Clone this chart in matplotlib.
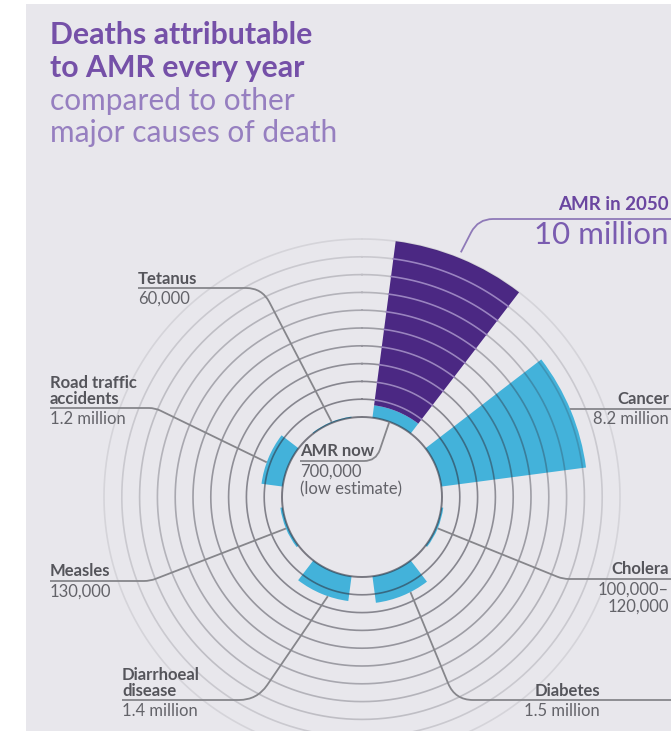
import numpy as np
import matplotlib
matplotlib.use('Agg')
import matplotlib.pyplot as plt
from matplotlib.path import Path
from matplotlib.patches import PathPatch, Rectangle

plt.rcParams['font.family'] = ['Lato', 'DejaVu Sans']

# deaths per year, in millions
causes = ['AMR now', 'Cancer', 'Cholera', 'Diabetes', 'Diarrhoeal\ndisease',
          'Measles', 'Road traffic\naccidents', 'Tetanus']
deaths = [0.7, 8.2, 0.11, 1.5, 1.4, 0.13, 1.2, 0.06]
value_text = ['700,000\n(low estimate)', '8.2 million', '100,000–\n120,000',
              '1.5 million', '1.4 million', '130,000', '1.2 million', '60,000']
amr_2050 = 10.0
rings = list(range(0, 11))
ring_alpha = [0.6, 0.55, 0.52, 0.48, 0.44, 0.4, 0.34, 0.28, 0.22, 0.16, 0.1]

W, H = 671, 731
CX, CY = 362, 497          # centre of the chart in pixels
PX_PER_M = 17.8            # pixels per million deaths
R0 = 80 / PX_PER_M         # empty hole in the middle
RPX = 280

BG = '#e8e7ec'
BLUE = '#43b2da'
PURPLE = '#4b2883'
TITLE_PURPLE = '#7550a8'
SUB_PURPLE = '#967fc0'
LIGHT_PURPLE = '#9a82c2'
GREY = '#55555b'
GREY_L = '#636369'
LINE = '#86868b'

fig = plt.figure(figsize=(W / 100, H / 100), dpi=100, facecolor='white')
fig.add_artist(Rectangle((26 / W, 0), 1 - 26 / W, 1 - 4 / H, transform=fig.transFigure,
                         facecolor=BG, edgecolor='none', zorder=-1))

pax = fig.add_axes([(CX - RPX) / W, (H - CY - RPX) / H, 2 * RPX / W, 2 * RPX / H],
                   projection='polar', zorder=1)
pax.set_theta_zero_location('N')
pax.set_theta_direction(-1)
pax.set_ylim(0, RPX / PX_PER_M)
pax.patch.set_alpha(0)
pax.spines['polar'].set_visible(False)
pax.set_xticks([])
pax.set_yticks([])
pax.grid(False)

width = np.deg2rad(30)
theta = np.deg2rad(22.5 + 45 * np.arange(len(causes)))
pax.bar(theta, deaths, width=width, bottom=R0, color=BLUE, linewidth=0, zorder=2)
pax.bar(theta[0], amr_2050 - deaths[0], width=width, bottom=R0 + deaths[0],
        color=PURPLE, linewidth=0, zorder=2)

# concentric rings, one per million, fading outwards
full = np.linspace(0, 2 * np.pi, 721)
for k, a in zip(rings, ring_alpha):
    pax.plot(full, np.full_like(full, R0 + k), color='#2e2e3a', alpha=a,
             lw=1.4 if k == 0 else 1.2, zorder=2.5)
arc = np.linspace(theta[0] - width / 2, theta[0] + width / 2, 60)
for k in rings[1:10]:
    if k > deaths[0]:
        pax.plot(arc, np.full_like(arc, R0 + k), color=LIGHT_PURPLE, lw=1.2, zorder=3)

tax = fig.add_axes([0, 0, 1, 1], zorder=2)
tax.set_xlim(0, W)
tax.set_ylim(H, 0)
tax.axis('off')


def to_px(theta_deg, r):
    d = pax.transData.transform((np.deg2rad(theta_deg), r))
    return tax.transData.inverted().transform(d)


def leader(points, rad=10, color=LINE):
    verts = [points[0]]
    codes = [Path.MOVETO]
    for i in range(1, len(points) - 1):
        p0, p1, p2 = (np.asarray(p, float) for p in points[i - 1:i + 2])
        d1 = (p1 - p0) / np.linalg.norm(p1 - p0)
        d2 = (p2 - p1) / np.linalg.norm(p2 - p1)
        verts += [p1 - d1 * rad, p1, p1 + d2 * rad]
        codes += [Path.LINETO, Path.CURVE3, Path.CURVE3]
    verts.append(points[-1])
    codes.append(Path.LINETO)
    tax.add_patch(PathPatch(Path(verts, codes), fill=False, edgecolor=color, lw=1.3))


# label placement: anchor x, underline y, alignment, elbow, tip angle, tip on bar (0 inner, 1 outer)
layout = [
    dict(x=300, y=461, ha='left', corner=(376, 461), ang=20, tip=0.0, rad=12),
    dict(x=669, y=409, ha='right', corner=None, ang=None, tip=1.0, rad=0),
    dict(x=669, y=579, ha='right', corner=(563, 579), ang=112.5, tip=1.0, rad=6),
    dict(x=600, y=700, ha='right', corner=(455, 700), ang=153, tip=1.0, rad=18),
    dict(x=122, y=700, ha='left', corner=(257, 700), ang=199, tip=1.0, rad=18),
    dict(x=50, y=581, ha='left', corner=(150, 581), ang=247.5, tip=1.0, rad=6),
    dict(x=50, y=408, ha='left', corner=(155, 408), ang=290, tip=1.0, rad=6),
    dict(x=138, y=288, ha='left', corner=(262, 288), ang=338, tip=1.0, rad=16),
]

for name, val, d, lay in zip(causes, value_text, deaths, layout):
    x, y = lay['x'], lay['y']
    start = (W if lay['ha'] == 'right' else x, y)
    if lay['corner'] is None:
        r_px = (R0 + d) * PX_PER_M
        ang = np.degrees(np.arccos((CY - y) / r_px))
        leader([start, to_px(ang, R0 + d)])
    else:
        end = to_px(lay['ang'], R0 + d * lay['tip'])
        leader([start, lay['corner'], end], rad=lay['rad'])
    tax.text(x, y - 1.5, name, ha=lay['ha'], va='bottom', fontsize=12, fontweight='bold',
             color=GREY, linespacing=1.0)
    tax.text(x, y + 2.5, val, ha=lay['ha'], va='top', fontsize=12, color=GREY_L,
             linespacing=1.12)

# AMR in 2050 callout
leader([(W, 219), (478, 219), to_px(22, R0 + amr_2050 + 0.33)], rad=15, color='#8f7ab8')
tax.text(669, 213, 'AMR in 2050', ha='right', va='bottom', fontsize=13.5, fontweight='bold',
         color='#6a46a0')
tax.text(669, 221, '10 million', ha='right', va='top', fontsize=22.5, color='#7a5cb0')

# title
tax.text(50, 44, 'Deaths attributable', fontsize=21.8, fontweight='bold', color=TITLE_PURPLE,
         va='baseline')
tax.text(50, 77, 'to AMR every year', fontsize=21.8, fontweight='bold', color=TITLE_PURPLE,
         va='baseline')
tax.text(50, 110, 'compared to other', fontsize=21.5, fontweight='normal', color=SUB_PURPLE,
         va='baseline')
tax.text(50, 142, 'major causes of death', fontsize=21.5, fontweight='normal', color=SUB_PURPLE,
         va='baseline')

fig.savefig('out.png', dpi=100, facecolor=fig.get_facecolor())
